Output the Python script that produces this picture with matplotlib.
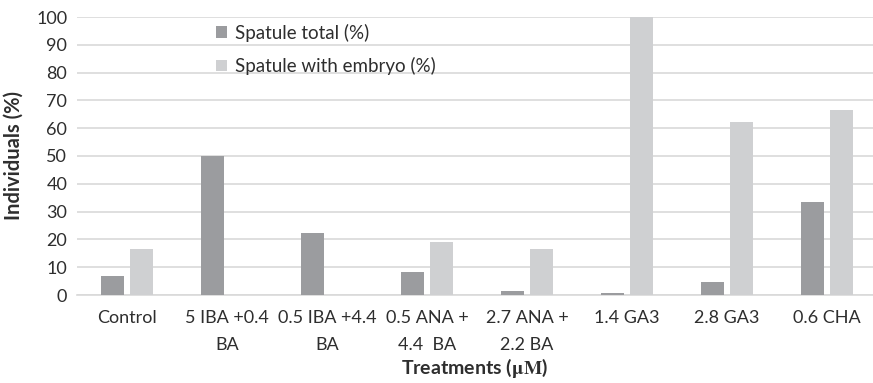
import matplotlib
matplotlib.use('Agg')
import matplotlib.pyplot as plt
import numpy as np

# treatments and percentages per group
treatments = ['Control', '5 IBA +0.4\nBA', '0.5 IBA +4.4\nBA', '0.5 ANA +\n4.4  BA',
              '2.7 ANA +\n2.2 BA', '1.4 GA3', '2.8 GA3', '0.6 CHA']
spatule_total = [6.9, 50.0, 22.2, 8.3, 1.4, 0.7, 4.7, 33.3]
spatule_embryo = [16.7, 0, 0, 19.0, 16.7, 100.0, 62.2, 66.7]

plt.rcParams['font.family'] = ['Lato', 'DejaVu Sans']
plt.rcParams['mathtext.fontset'] = 'stix'
txt = '#2e2e2e'

fig = plt.figure(figsize=(8.73, 3.83), dpi=100)
ax = fig.add_axes([77/873, 1 - 295/383, 1 - 77/873, (295 - 17)/383])

x = np.arange(len(treatments))
w = 0.23
ax.bar(x - 0.145, spatule_total, w, color='#9b9c9f', label='Spatule total (%)', zorder=3)
ax.bar(x + 0.145, spatule_embryo, w, color='#cfd0d2', label='Spatule with embryo (%)', zorder=3)

ax.set_ylim(0, 100)
ax.set_xlim(-0.5, 7.46)
ax.set_yticks(range(0, 101, 10))
ax.grid(axis='y', color='#d9d9d9', lw=1.2, zorder=0)
for s in ['top', 'right', 'left']:
    ax.spines[s].set_visible(False)
ax.spines['bottom'].set_color('#d9d9d9')
ax.spines['bottom'].set_linewidth(1.2)
ax.tick_params(length=0, labelsize=13, colors=txt)
ax.tick_params(axis='y', pad=7)
ax.tick_params(axis='x', pad=11)
ax.set_xticks(x)
ax.set_xticklabels(treatments, linespacing=1.85)

ax.set_ylabel('Individuals (%)', fontsize=14.5, fontweight='bold', color=txt, labelpad=9)
ax.set_xlabel(r'Treatments ($\mathbf{\mu M}$)', fontsize=14, fontweight='bold', color=txt, labelpad=2)

leg = ax.legend(loc='upper left', bbox_to_anchor=(0.174, 0.975), frameon=False, fontsize=13.5,
                borderaxespad=0, borderpad=0,
                handlelength=0.6, handleheight=0.6, handletextpad=0.45, labelspacing=0.8)
for t in leg.get_texts():
    t.set_color(txt)

fig.savefig('out.png', dpi=100)
